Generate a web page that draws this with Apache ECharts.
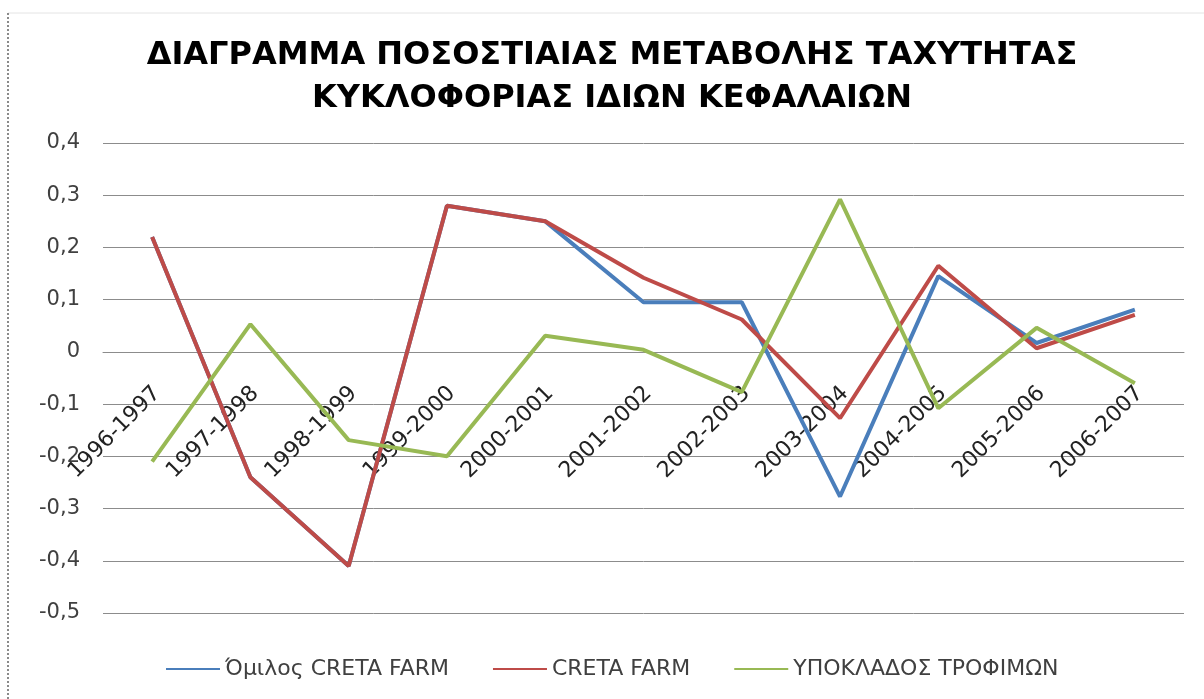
<!DOCTYPE html>
<html>
<head>
<meta charset="utf-8">
<script src="https://cdn.jsdelivr.net/npm/echarts@6/dist/echarts.min.js"></script>
<style>
html,body{margin:0;padding:0;background:#fff;}
#chart{width:1204px;height:699px;}
</style>
</head>
<body>
<div id="chart"></div>
<script>
const categories = ['1996-1997','1997-1998','1998-1999','1999-2000','2000-2001','2001-2002','2002-2003','2003-2004','2004-2005','2005-2006','2006-2007'];
const seriesNames = ['Όμιλος CRETA FARM','CRETA FARM','ΥΠΟΚΛΑΔΟΣ ΤΡΟΦΙΜΩΝ'];
const omilosValues = [0.22, -0.24, -0.41, 0.28, 0.25, 0.095, 0.095, -0.277, 0.145, 0.017, 0.081];
const cretaValues = [0.22, -0.24, -0.41, 0.28, 0.25, 0.142, 0.062, -0.127, 0.165, 0.007, 0.071];
const ypokladosValues = [-0.21, 0.053, -0.169, -0.2, 0.031, 0.004, -0.077, 0.292, -0.108, 0.046, -0.06];
const yMin = -0.5, yMax = 0.4, yStep = 0.1;
const titleText = 'ΔΙΑΓΡΑΜΜΑ ΠΟΣΟΣΤΙΑΙΑΣ ΜΕΤΑΒΟΛΗΣ ΤΑΧΥΤΗΤΑΣ\nΚΥΚΛΟΦΟΡΙΑΣ ΙΔΙΩΝ ΚΕΦΑΛΑΙΩΝ';
const colors = ['#4A7EBB', '#BE4B48', '#98B954'];

const gridTop = 143, gridBottom = 86, chartH = 699;
const plotH = chartH - gridTop - gridBottom;
// distance from the bottom edge of the plot up to the zero line
const zeroOffset = plotH * (0 - yMin) / (yMax - yMin);

const chart = echarts.init(document.getElementById('chart'), null, {renderer: 'canvas'});
const mk = (name, data, color) => ({
  name, type: 'line', data, symbol: 'none', smooth: false,
  lineStyle: {width: 4, color}, itemStyle: {color}
});
chart.setOption({
  animation: false,
  backgroundColor: '#fff',
  title: {
    text: titleText, left: 612, textAlign: 'center', top: 34, padding: 0,
    textStyle: {fontFamily: 'DejaVu Sans', fontWeight: 'bold', fontSize: 32, lineHeight: 43, color: '#000'}
  },
  graphic: [
    {type: 'line', shape: {x1: 8, y1: 13, x2: 1204, y2: 13}, style: {stroke: '#e4e4e4', lineWidth: 1}, silent: true},
    {type: 'line', shape: {x1: 8, y1: 13, x2: 8, y2: 699}, style: {stroke: '#8a8a8a', lineWidth: 2, lineDash: [2, 2]}, silent: true}
  ],
  legend: {
    left: 161, top: 653, itemWidth: 54, itemHeight: 12, itemGap: 44,
    icon: 'path://M0,5 L54,5 L54,7 L0,7 Z',
    textStyle: {fontFamily: 'DejaVu Sans', fontSize: 22, color: '#404040'},
    data: seriesNames
  },
  grid: {left: 103, right: 20, top: gridTop, bottom: gridBottom, containLabel: false, outerBoundsMode: 'none'},
  xAxis: {
    type: 'category', data: categories, boundaryGap: true,
    offset: -zeroOffset,
    axisLine: {onZero: false, lineStyle: {color: '#8c8c8c', width: 1}},
    axisTick: {show: false},
    axisLabel: {rotate: 45, interval: 0, margin: 43, padding: [0, -7, 0, 0],
      fontFamily: 'DejaVu Sans', fontSize: 22, color: '#222'},
    splitLine: {show: false}
  },
  yAxis: {
    type: 'value', min: yMin, max: yMax, interval: yStep,
    axisLine: {show: false}, axisTick: {show: false},
    axisLabel: {margin: 23, fontFamily: 'DejaVu Sans', fontSize: 21, color: '#404040',
      formatter: v => Math.abs(v) < 1e-9 ? '0' : v.toFixed(1).replace('.', ',')},
    splitLine: {lineStyle: {color: '#8c8c8c', width: 1}}
  },
  series: [
    mk(seriesNames[0], omilosValues, colors[0]),
    mk(seriesNames[1], cretaValues, colors[1]),
    mk(seriesNames[2], ypokladosValues, colors[2])
  ]
});
</script>
</body>
</html>
